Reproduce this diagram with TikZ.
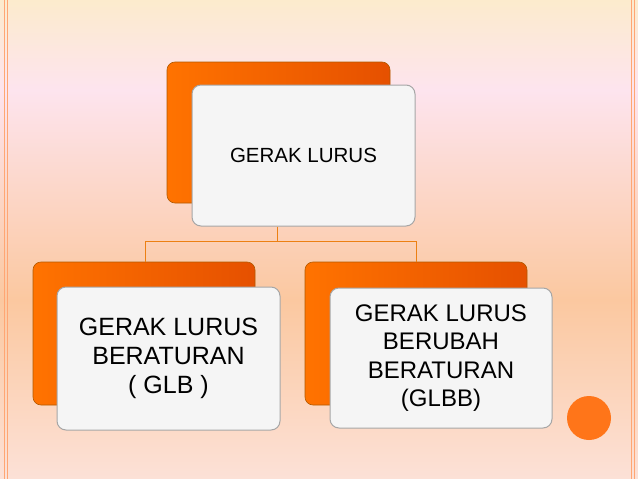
\documentclass[tikz,border=0pt]{standalone}
\usepackage{fontspec}
\setmainfont{Liberation Sans}
\begin{document}
\begin{tikzpicture}[x=1pt,y=-1pt,
  back/.style={draw=orange!70!black,rounded corners=8pt,left color=orange!90!red,right color=orange!70!red!90!black,line width=0.6pt},
  front/.style={draw=gray!70,rounded corners=9pt,fill=gray!8,line width=1pt,align=center,text=black},
  link/.style={draw=orange!70!brown,line width=0.8pt}]
\useasboundingbox (0,0) rectangle (638,479);
\shade[top color={rgb,255:red,252;green,235;blue,205},bottom color={rgb,255:red,253;green,228;blue,238}] (0,0) rectangle (638,90);
\shade[top color={rgb,255:red,253;green,228;blue,238},bottom color={rgb,255:red,251;green,200;blue,160}] (0,90) rectangle (638,300);
\shade[top color={rgb,255:red,251;green,200;blue,160},bottom color={rgb,255:red,252;green,225;blue,215}] (0,300) rectangle (638,479);
\draw[orange!40!pink,line width=0.8pt] (4,0)--(4,479) (7,0)--(7,479) (631,0)--(631,479) (634,0)--(634,479);
\fill[orange!80!red!90] (589,418) circle (22);
% top
\path[back] (167,62) rectangle (390,203);
\node[front,minimum width=223pt,minimum height=141pt,font=\fontsize{20.5}{24}\selectfont] (top) at (303.5,155.5) {GERAK LURUS};
% left
\path[back] (33,262) rectangle (255,405);
\node[front,minimum width=223pt,minimum height=143pt,font=\fontsize{25}{29}\selectfont] (glb) at (168.5,358.5) {GERAK LURUS\\BERATURAN\\( GLB )};
% right
\path[back] (305,262) rectangle (527,405);
\node[front,minimum width=222pt,minimum height=140pt,font=\fontsize{24}{28.5}\selectfont] (glbb) at (441,358) {GERAK LURUS\\BERUBAH\\BERATURAN\\(GLBB)};
\coordinate (j) at (277,241);
\coordinate (lj) at (145,241);
\coordinate (rj) at (416,241);
\coordinate (ld) at (145,262);
\coordinate (rd) at (416,262);
\draw[link] (top.south -| j) -- (j) (lj) -- (rj) (lj) -- (ld) (rj) -- (rd);
\end{tikzpicture}
\end{document}
